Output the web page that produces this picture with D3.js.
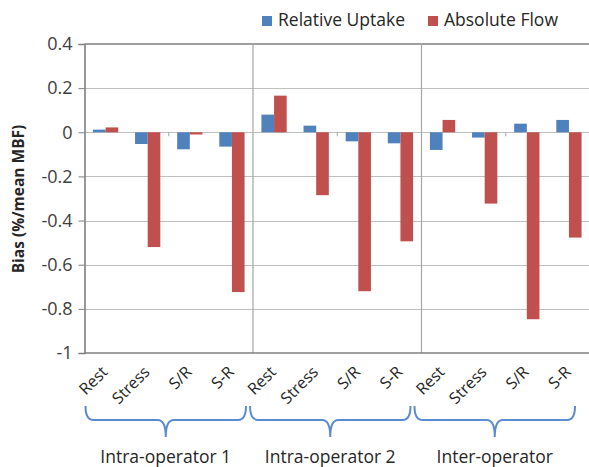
<!DOCTYPE html>
<html><head><meta charset="utf-8">
<script src="https://cdn.jsdelivr.net/npm/d3@7"></script>
<style>body{margin:0;background:#fff;} text{font-family:"Open Sans",sans-serif;}</style>
</head><body>
<svg id="chart" width="589" height="467"></svg>
<script>
const categories = ["Rest","Stress","S/R","S-R","Rest","Stress","S/R","S-R","Rest","Stress","S/R","S-R"];
const groups = ["Intra-operator 1","Intra-operator 2","Inter-operator"];
const seriesNames = ["Relative Uptake","Absolute Flow"];
const relativeUptake = [0.012,-0.053,-0.077,-0.065, 0.08,0.03,-0.041,-0.05, -0.08,-0.024,0.039,0.056];
const absoluteFlow   = [0.022,-0.52,-0.01,-0.724, 0.166,-0.285,-0.72,-0.494, 0.056,-0.323,-0.847,-0.477];
const yTicks = [0.4,0.2,0,-0.2,-0.4,-0.6,-0.8,-1];
const yTickLabels = ["0.4","0.2","0","-0.2","-0.4","-0.6","-0.8","-1"];
const colors = ["#4f81bd","#c0504d"];

const svg = d3.select("#chart");
const L = 84.5, R = 590, T = 44, B = 353;
const x = d3.scaleBand().domain(d3.range(categories.length)).range([L, R]).padding(0);
const y = d3.scaleLinear().domain([-1, 0.4]).range([B, T]);
const bw = x.bandwidth();
const barW = bw * 0.3;

// horizontal gridlines
svg.append("g").selectAll("line").data(yTicks.filter(t => t > -1 && t < 0.4)).join("line")
  .attr("x1", L).attr("x2", R).attr("y1", d => Math.round(y(d)) + 0.5).attr("y2", d => Math.round(y(d)) + 0.5)
  .attr("stroke", "#bfbfbf").attr("stroke-width", 1.2);
// top line
svg.append("line").attr("x1", L).attr("x2", R).attr("y1", y(0.4)).attr("y2", y(0.4))
  .attr("stroke", "#7f7f7f").attr("stroke-width", 1.5);
// group separators
svg.append("g").selectAll("line").data([4, 8]).join("line")
  .attr("x1", d => x(d)).attr("x2", d => x(d)).attr("y1", T).attr("y2", B)
  .attr("stroke", "#a6a6a6").attr("stroke-width", 1.2);

// small tick marks at zero
svg.append("g").selectAll("line").data([2, 6, 10]).join("line")
  .attr("x1", d => x(d)).attr("x2", d => x(d)).attr("y1", y(0)).attr("y2", y(0) + 4)
  .attr("stroke", "#a6a6a6").attr("stroke-width", 1);

// bars
const series = [relativeUptake, absoluteFlow];
series.forEach((vals, s) => {
  svg.append("g").selectAll("rect").data(vals).join("rect")
    .attr("x", (d, i) => x(i) + bw / 2 - barW + s * barW)
    .attr("width", barW)
    .attr("y", d => y(Math.max(0, d)))
    .attr("height", d => Math.abs(y(d) - y(0)))
    .attr("fill", colors[s]);
});

// y axis
const yAxis = d3.axisLeft(y).tickValues(yTicks).tickSize(6).tickPadding(6)
  .tickFormat((d, i) => yTickLabels[i]);
const ga = svg.append("g").attr("transform", `translate(${L},0)`).call(yAxis);
ga.select(".domain").attr("stroke", "#7f7f7f").attr("stroke-width", 1.6);
ga.selectAll(".tick line").attr("stroke", "#7f7f7f");
ga.selectAll(".tick text").attr("font-size", 18).attr("fill", "#404040")
  .attr("font-family", "'Open Sans', sans-serif");
// bottom axis line
svg.append("line").attr("x1", L).attr("x2", R).attr("y1", B).attr("y2", B)
  .attr("stroke", "#7f7f7f").attr("stroke-width", 1.6);

// y title
svg.append("text").attr("transform", "translate(24,199) rotate(-90)")
  .attr("text-anchor", "middle").attr("font-size", 15.5).attr("font-weight", "bold")
  .attr("fill", "#262626").text("Bias (%/mean MBF)");

// category labels
svg.append("g").selectAll("text").data(categories).join("text")
  .attr("transform", (d, i) => `translate(${x(i) + bw / 2 + 3},373) rotate(-45)`)
  .attr("text-anchor", "end").attr("font-size", 16).attr("fill", "#262626").text(d => d);

// braces and group labels
groups.forEach((g, gi) => {
  const x0 = x(gi * 4), x1 = x(gi * 4 + 3) + bw;
  const c = (x0 + x1) / 2 - 3 - 4 * gi;
  const half = (x1 - x0) / 2 - 4;
  const a = c - half, b = c + half;
  const yt = 406, yh = 420, yp = 437;
  const p = `M${a},${yt} Q${a},${yh} ${a + 8},${yh} L${c - 8},${yh} Q${c},${yh} ${c},${yp} Q${c},${yh} ${c + 8},${yh} L${b - 8},${yh} Q${b},${yh} ${b},${yt}`;
  svg.append("path").attr("d", p).attr("fill", "none").attr("stroke", "#5b8bd0").attr("stroke-width", 2);
  svg.append("text").attr("x", c).attr("y", 463).attr("text-anchor", "middle")
    .attr("font-size", 17.5).attr("fill", "#262626").text(g);
});

// legend
const leg = [{x: 262}, {x: 428}];
seriesNames.forEach((n, i) => {
  svg.append("rect").attr("x", leg[i].x).attr("y", 16).attr("width", 10).attr("height", 10).attr("fill", colors[i]);
  svg.append("text").attr("x", leg[i].x + 16).attr("y", 26).attr("font-size", 17.5)
    .attr("fill", "#262626").text(n);
});
</script>
</body></html>
